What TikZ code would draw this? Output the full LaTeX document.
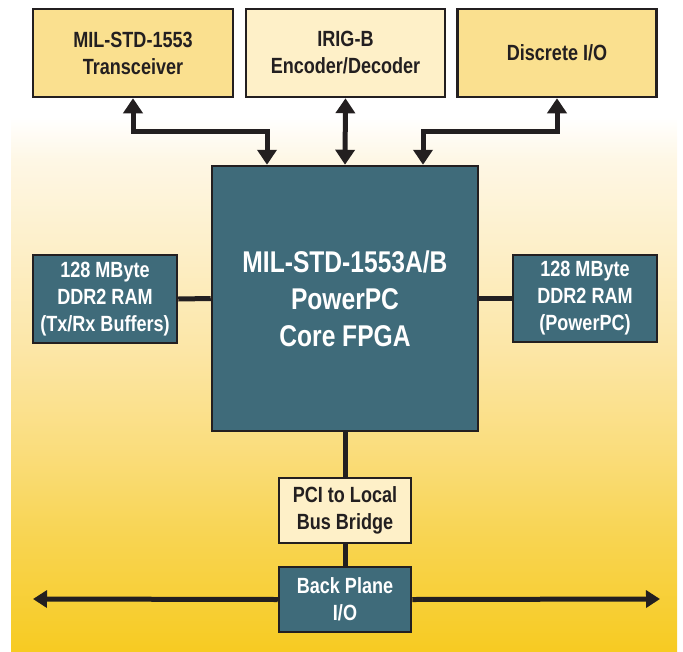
\documentclass[tikz,border=0pt]{standalone}
\usepackage{fontspec}
\setmainfont{Liberation Sans}[FakeStretch=0.82]
\usetikzlibrary{arrows.meta}

\definecolor{ink}{HTML}{231F20}
\definecolor{boxgold}{HTML}{FAE08F}
\definecolor{boxcream}{HTML}{FEF0C8}
\definecolor{boxteal}{HTML}{3F6B7A}
\definecolor{bgA}{HTML}{FEF7E5}
\definecolor{bgB}{HTML}{FDEFC8}
\definecolor{bgC}{HTML}{FCE6A6}
\definecolor{bgD}{HTML}{FADD7C}
\definecolor{bgE}{HTML}{F8D450}
\definecolor{bgF}{HTML}{F7CB22}
\pgfdeclareverticalshading{bgfade}{100bp}{color(0bp)=(bgF); color(25bp)=(bgF);
  color(33.5bp)=(bgE); color(40.4bp)=(bgD); color(48.1bp)=(bgC); color(55.8bp)=(bgB);
  color(62.7bp)=(bgA); color(66bp)=(white); color(100bp)=(white)}

\begin{document}
\begin{tikzpicture}[x=1pt, y=-1pt,
  blk/.style={draw=ink, line width=2.5pt, align=center, inner sep=0pt,
    font=\bfseries\fontsize{22}{27}\selectfont},
  goldblk/.style={blk, fill=boxgold, text=ink},
  creamblk/.style={blk, fill=boxcream, text=ink},
  tealblk/.style={blk, fill=boxteal, text=white},
  link/.style={draw=ink, line width=5pt},
  dbl/.style={link, {Triangle[length=15pt,width=19pt]}-{Triangle[length=15pt,width=19pt]}}]
			%%%%% START %%%%%
			\useasboundingbox (0, 0) rectangle (683, 651);
			\shade[shading=bgfade] (11, 0) rectangle (677, 651);
			
			% top row
			\node[goldblk, minimum width=200pt, minimum height=88pt] (trx) at (133, 53) {MIL-STD-1553\\Transceiver};
			\node[creamblk, minimum width=199pt, minimum height=88pt] (irig) at (345.5, 53) {IRIG-B\\Encoder/Decoder};
			\node[goldblk, minimum width=199pt, minimum height=88pt] (dio) at (557, 53) {Discrete I/O};
			
			% core
			\node[tealblk, minimum width=266pt, minimum height=265pt, font=\bfseries\fontsize{30}{37}\selectfont] (fpga) at (345, 298.5) {MIL-STD-1553A/B\\PowerPC\\Core FPGA};
			\node[tealblk, minimum width=144pt, minimum height=88pt] (ramL) at (105, 299) {128 MByte\\DDR2 RAM\\(Tx/Rx Buffers)};
			\node[tealblk, minimum width=144pt, minimum height=87pt] (ramR) at (585, 298.5) {128 MByte\\DDR2 RAM\\(PowerPC)};
			
			% bus side
			\node[creamblk, minimum width=132pt, minimum height=65pt] (pci) at (345, 510.5) {PCI to Local\\Bus Bridge};
			\node[tealblk, minimum width=132pt, minimum height=65pt] (bp) at (345, 599.5) {Back Plane\\I/O};
			
			\coordinate (trxbend) at (267, 131);
			\coordinate (diobend) at (423, 131);
			\coordinate (busL) at (33, 599);
			\coordinate (busR) at (660, 599);
			
			\draw[dbl] (trx.south) |- (trxbend) -- (trxbend |- fpga.north);
			\draw[dbl] (irig.south) -- (fpga.north);
			\draw[dbl] (dio.south) |- (diobend) -- (diobend |- fpga.north);
			
			\draw[link] (ramL.east) -- (fpga.west);
			\draw[link] (fpga.east) -- (ramR.west);
			\draw[link] (fpga.south) -- (pci.north);
			\draw[link] (pci.south) -- (bp.north);
			
			\draw[link, -{Triangle[length=14pt,width=17pt]}] (bp.west) -- (busL);
			\draw[link, -{Triangle[length=14pt,width=17pt]}] (bp.east) -- (busR);
			%%%%% END %%%%%
\end{tikzpicture}
\end{document}
